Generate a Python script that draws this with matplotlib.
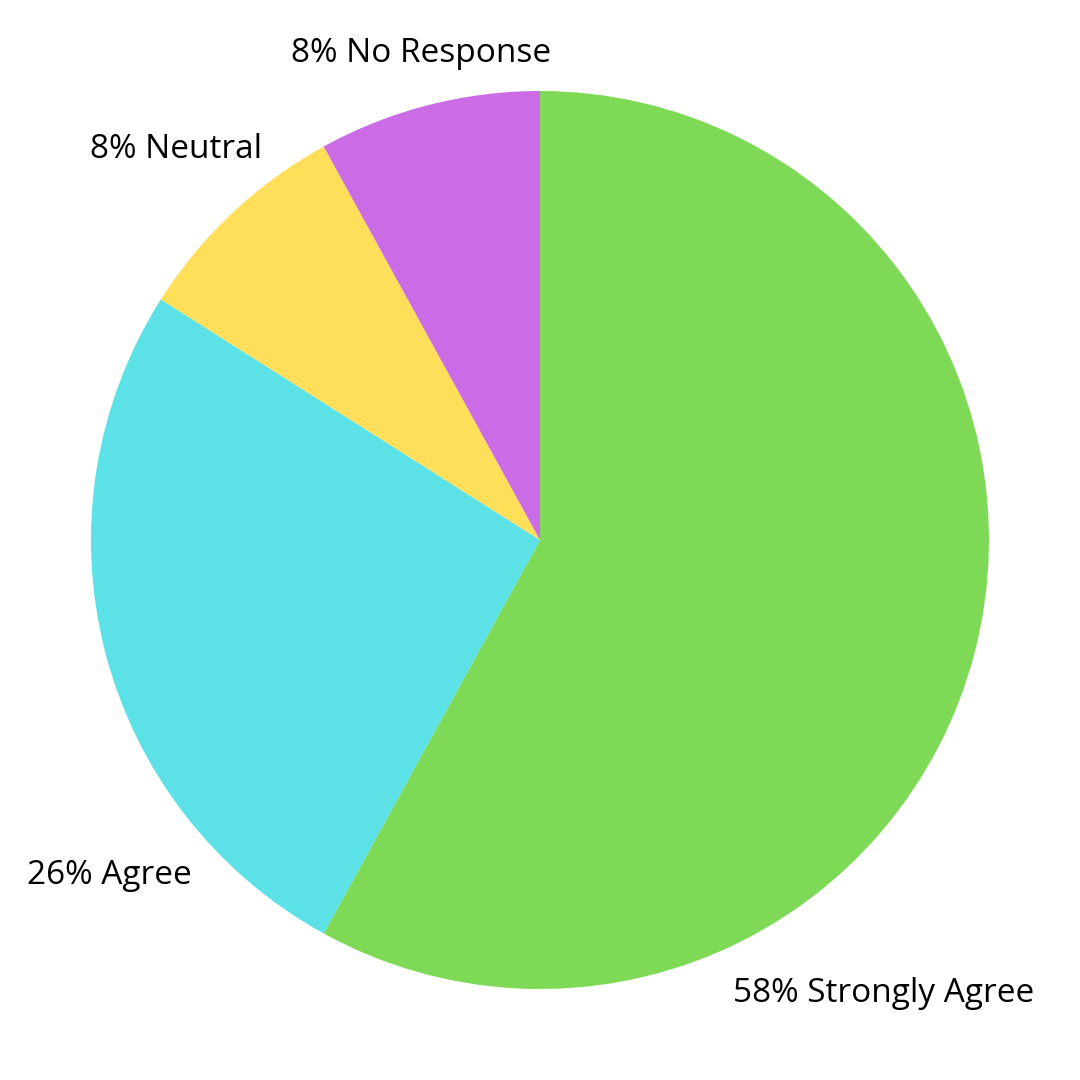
import matplotlib
matplotlib.use("Agg")
import matplotlib.pyplot as plt
import numpy as np

categories = ["Strongly Agree", "Agree", "Neutral", "No Response"]
values = [58, 26, 8, 8]
colors = ["#7ED957", "#5CE1E6", "#FFDE59", "#CB6CE6"]
label_texts = ["58% Strongly Agree", "26% Agree", "8% Neutral", "8% No Response"]

R_PX = 449.0
HALF = 540.0 / R_PX

fig = plt.figure(figsize=(10.8, 10.8), dpi=100)
ax = fig.add_axes([0, 0, 1, 1])
ax.pie(values, colors=colors, startangle=90, counterclock=False,
       radius=1.0, center=(0, 0), wedgeprops=dict(linewidth=0))
ax.set_xlim(-HALF, HALF)
ax.set_ylim(-HALF, HALF)
ax.set_aspect("equal")
ax.axis("off")

def px(x, y):
    return (x - 540.0) / R_PX, (540.0 - y) / R_PX

font = dict(family=["Open Sans", "DejaVu Sans"], fontsize=24, color="black")
pos = [(733, 993, "left"), (27, 875, "left"), (90, 149, "left"), (421, 53, "center")]
for txt, (x, y, ha) in zip(label_texts, pos):
    dx, dy = px(x, y)
    ax.text(dx, dy, txt, ha=ha, va="center", **font)

fig.savefig("out.png", dpi=100, facecolor="white")
